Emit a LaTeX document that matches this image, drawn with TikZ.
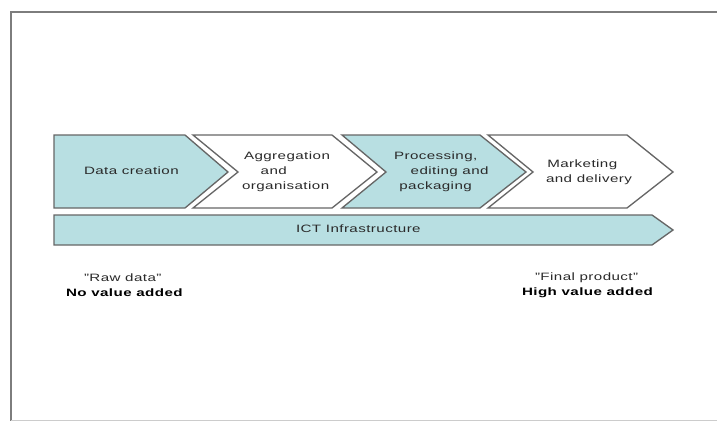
\documentclass[tikz,border=0pt]{standalone}
\usepackage{fontspec}
\setmainfont{Liberation Sans}[FakeStretch=1.42,LetterSpace=4]
\definecolor{tealfill}{HTML}{B8DFE2}
\definecolor{edgegray}{HTML}{666666}
\definecolor{textgray}{HTML}{2A2A2A}
\tikzset{
  chev/.style={draw=edgegray,line width=1pt,line join=miter},
  tealchev/.style={chev,fill=tealfill},
  whitechev/.style={chev,fill=white},
  lab/.style={inner sep=0pt,outer sep=0pt,text=textgray,font=\fontsize{8}{11.25}\selectfont,align=left,anchor=west},
  boldlab/.style={lab,text=black,font=\fontsize{8}{11.25}\selectfont\bfseries},
  frameline/.style={draw=edgegray!85,line width=1.5pt}
}
\begin{document}
\begin{tikzpicture}[x=0.75pt,y=-0.75pt]
\useasboundingbox (0,0) rectangle (717,421);
\draw[frameline] (717,12) -- (11,12) -- (11,421);
\draw[draw=black!20,line width=1pt] (11,420.5) -- (717,420.5);
\draw[tealchev] (54,135) -- (185,135) -- (228,172) -- (185,208) -- (54,208) -- cycle;
\draw[whitechev] (193,135) -- (332,135) -- (377,172) -- (332,208) -- (193,208) -- (238,172) -- cycle;
\draw[tealchev] (342,135) -- (480,135) -- (526,172) -- (480,208) -- (342,208) -- (386,172) -- cycle;
\draw[whitechev] (488,135) -- (627,135) -- (673,172) -- (627,208) -- (488,208) -- (533,172) -- cycle;
\draw[tealchev] (54,215) -- (652,215) -- (673,230) -- (652,245) -- (54,245) -- cycle;
\node[lab] (data) at (84,171) {Data creation};
\node[lab] (agg) at (242,172) {\hspace*{1.5pt}Aggregation\\\hspace*{14pt}and\\organisation};
\node[lab] (proc) at (394,172) {Processing,\\\hspace*{12.5pt}editing and\\\hspace*{4pt}packaging};
\node[lab] (mark) at (546,172) {\hspace*{1pt}Marketing\\and delivery};
\node[lab] (ict) at (296,229) {ICT Infrastructure};
\node[lab] (raw) at (84,278) {"Raw data"};
\node[boldlab] (noval) at (66,293) {No value added};
\node[lab] (final) at (535,278) {"Final product"};
\node[boldlab] (highval) at (522,293) {High value added};
\end{tikzpicture}
\end{document}
